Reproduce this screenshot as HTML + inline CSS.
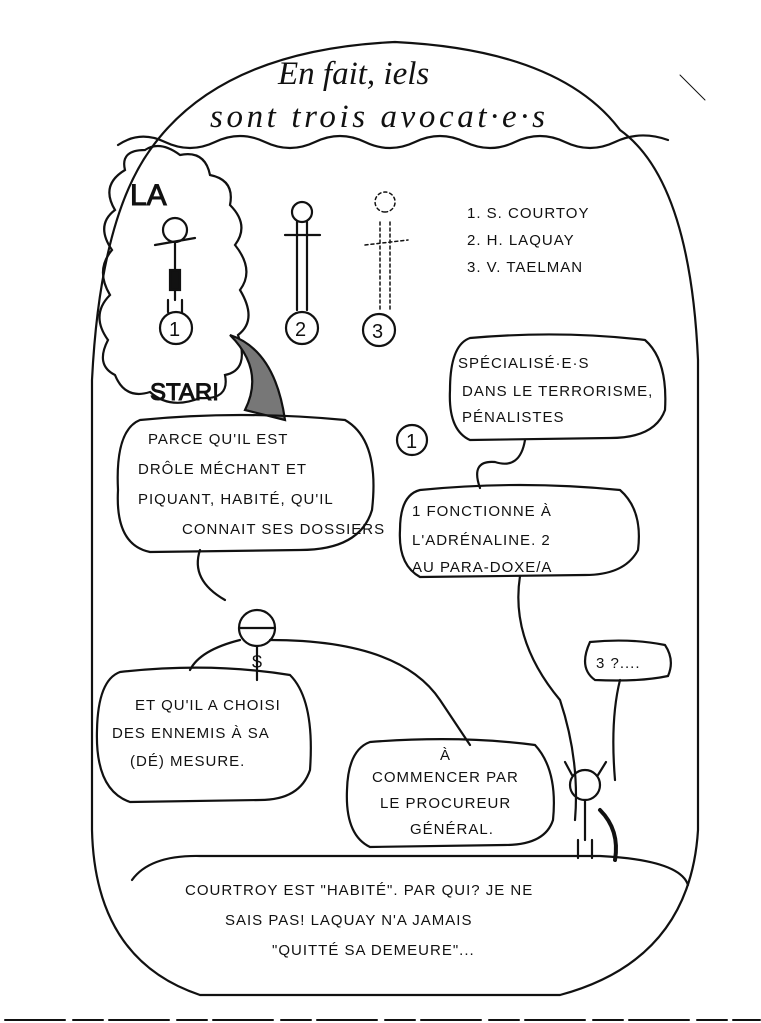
<!DOCTYPE html>
<html><head><meta charset="utf-8"><style>
html,body{margin:0;padding:0;background:#fff;}
svg{display:block}
text{font-family:"Liberation Sans",sans-serif;fill:#111;}
.h{font-size:15px;letter-spacing:1px;}
.t{font-family:"Liberation Serif",serif;font-style:italic;font-size:33px;}
</style></head><body>
<svg width="761" height="1023" viewBox="0 0 761 1023" xmlns="http://www.w3.org/2000/svg" fill="none" stroke="#111" stroke-width="2.2" stroke-linecap="round">
<path d="M150 150 Q100 220 92 380 L92 830 Q95 960 200 995 L560 995 Q690 960 698 830 L698 360 Q690 180 620 130 Q560 50 395 42 Q220 50 150 150 Z"/>
<path d="M118 145 Q140 130 165 142 T215 142 T265 142 T315 142 T365 142 T415 142 T465 142 T515 142 T565 142 T615 142 T668 140"/>
<text class="t" x="278" y="84" stroke="none">En fait, iels</text>
<text class="t" x="210" y="127" stroke="none" textLength="335">sont trois avocat·e·s</text>
<path d="M125 170 Q120 150 145 150 Q160 140 180 155 Q205 150 210 175 Q235 180 230 205 Q250 225 235 245 Q255 270 240 290 Q258 320 238 335 Q250 370 225 375 Q230 400 200 398 Q170 410 150 392 Q125 400 115 375 Q95 365 108 340 Q90 315 110 295 Q95 270 112 250 Q95 225 115 210 Q100 185 125 170Z"/>
<text x="130" y="205" font-size="30" stroke="#111" stroke-width="1" fill="#fff">LA</text>
<text x="150" y="400" font-size="24" stroke="#111" stroke-width="1" fill="#fff">STAR!</text>
<circle cx="175" cy="230" r="12"/><path d="M175 242 L175 300 M168 300 L168 312 M182 300 L182 312 M155 245 L195 238"/><rect x="170" y="270" width="10" height="20" fill="#111"/>
<circle cx="176" cy="328" r="16"/><text x="169" y="336" font-size="20" stroke="none">1</text>
<circle cx="302" cy="212" r="10"/><path d="M297 222 L297 310 M307 222 L307 310 M285 235 L320 235"/>
<circle cx="302" cy="328" r="16"/><text x="295" y="336" font-size="20" stroke="none">2</text>
<path stroke-dasharray="3 3" stroke-width="1.5" d="M385 212 a10 10 0 1 1 0.1 0 M380 222 L380 310 M390 222 L390 310 M365 245 L408 240"/>
<circle cx="379" cy="330" r="16"/><text x="372" y="338" font-size="20" stroke="none">3</text>
<text class="h" x="467" y="218" stroke="none">1. S. COURTOY</text>
<text class="h" x="467" y="245" stroke="none">2. H. LAQUAY</text>
<text class="h" x="467" y="272" stroke="none">3. V. TAELMAN</text>
<path d="M230 335 Q275 350 285 420 L245 410 Q265 370 230 335Z" fill="#777"/>
<path d="M140 420 Q240 410 345 420 Q380 440 372 510 Q360 550 300 550 L150 552 Q115 545 118 490 Q115 430 140 420Z"/>
<path d="M200 550 Q190 580 225 600"/>
<text class="h" x="148" y="444" stroke="none">PARCE QU'IL EST</text>
<text class="h" x="138" y="474" stroke="none">DRÔLE MÉCHANT ET</text>
<text class="h" x="138" y="504" stroke="none">PIQUANT, HABITÉ, QU'IL</text>
<text class="h" x="182" y="534" stroke="none">CONNAIT SES DOSSIERS</text>
<path d="M470 338 Q560 330 645 340 Q668 360 665 410 Q655 438 610 438 L470 440 Q448 430 450 390 Q450 345 470 338Z"/>
<text class="h" x="458" y="368" stroke="none">SPÉCIALISÉ·E·S</text>
<text class="h" x="462" y="396" stroke="none">DANS LE TERRORISME,</text>
<text class="h" x="462" y="422" stroke="none">PÉNALISTES</text>
<path d="M525 440 Q520 470 495 462 Q470 460 480 488"/>
<circle cx="412" cy="440" r="15"/><text x="406" y="448" font-size="20" stroke="none">1</text>
<path d="M420 490 Q520 480 620 490 Q643 510 638 550 Q625 575 585 575 L420 577 Q398 565 400 530 Q400 495 420 490Z"/>
<text class="h" x="412" y="516" stroke="none">1 FONCTIONNE À</text>
<text class="h" x="412" y="545" stroke="none">L'ADRÉNALINE. 2</text>
<text class="h" x="412" y="572" stroke="none">AU PARA-DOXE/A</text>
<path d="M520 576 Q510 640 560 700 Q580 760 575 820"/>
<circle cx="257" cy="628" r="18"/><path d="M240 628 L274 628 M257 646 L257 680 M270 640 Q400 640 440 700 Q460 730 470 745 M240 640 Q200 650 190 670"/>
<text x="252" y="668" font-size="18" stroke="none">$</text>
<path d="M120 672 Q210 662 290 675 Q315 700 310 770 Q300 800 260 800 L130 802 Q95 790 97 730 Q98 680 120 672Z"/>
<text class="h" x="135" y="710" stroke="none">ET QU'IL A CHOISI</text>
<text class="h" x="112" y="738" stroke="none">DES ENNEMIS À SA</text>
<text class="h" x="130" y="766" stroke="none">(DÉ) MESURE.</text>
<path d="M370 742 Q460 735 535 745 Q558 770 553 820 Q545 845 505 845 L370 847 Q345 835 347 790 Q348 750 370 742Z"/>
<text class="h" x="440" y="760" stroke="none">À</text>
<text class="h" x="372" y="782" stroke="none">COMMENCER PAR</text>
<text class="h" x="380" y="808" stroke="none">LE PROCUREUR</text>
<text class="h" x="410" y="834" stroke="none">GÉNÉRAL.</text>
<path d="M590 642 Q630 638 665 645 Q675 660 668 676 Q640 682 595 680 Q578 668 590 642Z"/>
<text class="h" x="596" y="668" stroke="none">3 ?....</text>
<path d="M620 680 Q610 720 615 780"/>
<circle cx="585" cy="785" r="15"/><path d="M572 775 L565 762 M598 775 L606 762 M585 800 L585 840 M578 840 L578 858 M592 840 L592 858"/>
<path d="M600 810 Q620 830 615 860" stroke-width="4"/>
<path d="M132 880 Q150 855 200 856 L600 856 Q680 860 688 885"/>
<text class="h" x="185" y="895" stroke="none" font-size="17">COURTROY EST "HABITÉ". PAR QUI? JE NE</text>
<text class="h" x="225" y="925" stroke="none" font-size="17">SAIS PAS! LAQUAY N'A JAMAIS</text>
<text class="h" x="272" y="955" stroke="none" font-size="17">"QUITTÉ SA DEMEURE"...</text>
<path d="M5 1020 L760 1020" stroke-dasharray="60 8 30 6" stroke-width="2"/>
<path d="M680 75 L705 100" stroke-width="1"/>
</svg>
</body></html>
